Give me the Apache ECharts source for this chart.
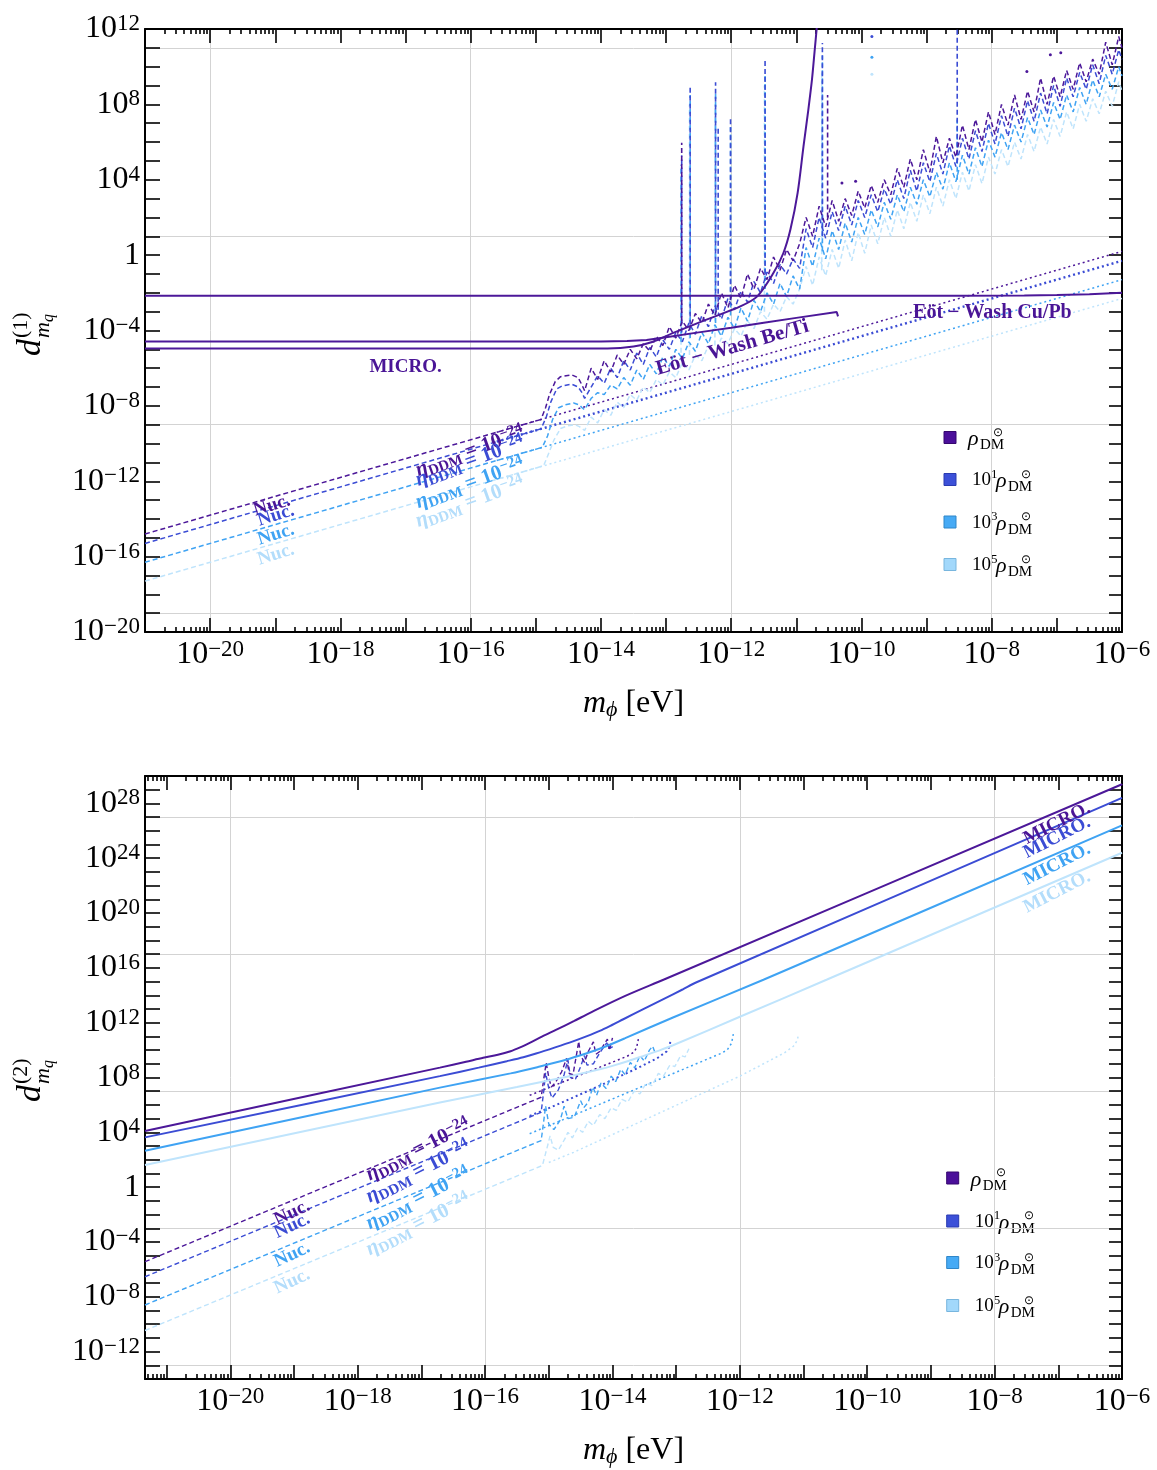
<!DOCTYPE html>
<html><head><meta charset="utf-8">
<script src="https://cdn.jsdelivr.net/npm/echarts@6/dist/echarts.min.js"></script>
<style>html,body{margin:0;padding:0;background:#fff}#c{width:1157px;height:1470px}</style>
</head><body><div id="c"></div><script>
// ---------- constants ----------
const FONT = '"Liberation Serif","Times New Roman",serif';
const COLORS = ['#4c1899', '#3b4cd4', '#3fa3f3', '#bfe4fc'];
const TEXT_COLORS = ['#4a1596', '#3b4cd4', '#3fa3f3', '#b3ddfb'];
const LEGEND_FILL = ['#4b0f9a', '#3c50d8', '#46aaf5', '#a2d8fb'];
const LEGEND_EDGE = ['#35076e', '#2a3bb0', '#2f86c8', '#78b6de'];
const RHO_EXP = [null, '1', '3', '5'];

// ---------- axis ranges & tick labels (log10 exponents) ----------
const TOP_LIM = { xmin: -21, xmax: -6, ymin: -20, ymax: 12 };
const BOT_LIM = { xmin: -21.34, xmax: -6, ymin: -14, ymax: 30 };
const X_LABEL_EXP = [-20, -18, -16, -14, -12, -10, -8, -6];
const X_GRID_EXP = [-20, -16, -12, -8];
const TOP_YLAB_EXP = [-20, -16, -12, -8, -4, 0, 4, 8, 12];
const TOP_YGRID_EXP = [-19, -9, 1, 11];
const BOT_YLAB_EXP = [-12, -8, -4, 0, 4, 8, 12, 16, 20, 24, 28];
const BOT_YGRID_EXP = [-13, -3, 7, 17, 27];

// ---------- TOP panel data (log10 m_phi, log10 d) ----------
const TOP_CUPB_X = [-21, -8.5, -7.5, -7.0, -6.5, -6.0];
const TOP_CUPB_Y = [-2.15, -2.15, -2.14, -2.12, -2.08, -2.0];
const TOP_BETI_X = [-21, -14.0, -13.6, -13.3, -13.0, -12.5, -12.0, -11.5, -11.0, -10.38, -10.36, -10.36];
const TOP_BETI_Y = [-4.58, -4.58, -4.56, -4.5, -4.36, -4.1, -3.85, -3.59, -3.33, -3.02, -3.0, -3.25];
const TOP_MICRO_X = [-21, -13.9, -13.5, -13.2, -12.89, -12.38, -11.86, -11.6, -11.35, -11.2, -11.09, -10.98, -10.89, -10.82, -10.76, -10.72, -10.68];
const TOP_MICRO_Y = [-4.95, -4.95, -4.85, -4.6, -4.13, -3.42, -2.72, -2.19, -0.94, 0.1, 1.37, 3.3, 5.77, 7.6, 9.31, 10.8, 12.3];

const TOP_DOT_X = [-15.6, -6.0];
const TOP_DOT_Y0 = [-9.4, 0.2];
const TOP_DOT_Y1 = [-9.9, -0.3];
const TOP_DOT_Y2 = [-10.9, -1.3];
const TOP_DOT_Y3 = [-11.9, -2.3];

const TOP_HEAD_X0 = [-21, -14.92, -14.85, -14.79, -14.7, -14.62, -14.45, -14.35, -14.29];
const TOP_HEAD_Y0 = [-14.8, -8.72, -8.1, -7.4, -6.7, -6.45, -6.35, -6.5, -6.9];
const TOP_HEAD_X1 = [-21, -14.92, -14.84, -14.77, -14.68, -14.6, -14.45, -14.35, -14.29];
const TOP_HEAD_Y1 = [-15.3, -9.22, -8.6, -7.8, -7.1, -6.95, -6.85, -7.0, -7.3];
const TOP_HEAD_X2 = [-21, -14.9, -14.82, -14.74, -14.65, -14.55, -14.42, -14.33, -14.29];
const TOP_HEAD_Y2 = [-16.3, -10.2, -9.6, -8.7, -8.1, -7.95, -7.85, -7.95, -8.1];
const TOP_HEAD_X3 = [-21, -14.88, -14.8, -14.72, -14.62, -14.5, -14.4, -14.33, -14.29];
const TOP_HEAD_Y3 = [-17.3, -11.18, -10.5, -9.8, -9.2, -9.05, -9.0, -9.1, -9.2];

const TOP_JAG_X = [-14.25, -14.15, -14.05, -13.95, -13.85, -13.75, -13.65, -13.55, -13.45, -13.35,
  -13.25, -13.15, -13.05, -12.95, -12.85, -12.75, -12.65, -12.55, -12.45, -12.35,
  -12.25, -12.15, -12.05, -11.95, -11.85, -11.75, -11.65, -11.55, -11.45, -11.35,
  -11.25, -11.15, -11.05, -10.95, -10.85, -10.75, -10.65, -10.55, -10.45, -10.35,
  -10.25, -10.15, -10.05, -9.95, -9.85, -9.75, -9.65, -9.55, -9.45, -9.35,
  -9.25, -9.15, -9.05, -8.95, -8.85, -8.75, -8.65, -8.55, -8.45, -8.35,
  -8.25, -8.15, -8.05, -7.95, -7.85, -7.75, -7.65, -7.55, -7.45, -7.35,
  -7.25, -7.15, -7.05, -6.95, -6.85, -6.75, -6.65, -6.55, -6.45, -6.35,
  -6.25, -6.15, -6.05, -6.0];
const TOP_JAG_Y0 = [-7.2, -6.0, -6.6, -5.6, -6.2, -5.3, -5.8, -5.0, -5.5, -4.7,
  -5.1, -4.3, -4.8, -3.8, -4.4, -3.5, -4.0, -3.1, -3.6, -2.6,
  -3.2, -2.0, -2.8, -1.6, -2.3, -1.0, -1.8, -0.7, -1.3, -0.1,
  -0.8, 0.3, -0.3, 0.6, 2.0, 1.0, 2.6, 1.5, 2.9, 1.8,
  3.0, 2.1, 3.4, 2.5, 3.7, 2.8, 4.0, 3.2, 4.6, 3.6,
  5.1, 4.0, 5.6, 4.4, 6.3, 4.9, 6.2, 5.2, 6.9, 5.6,
  7.2, 6.0, 7.6, 6.4, 8.0, 6.9, 8.5, 7.2, 8.7, 7.6,
  9.4, 8.0, 9.5, 8.4, 9.8, 8.8, 10.2, 9.2, 10.4, 9.6,
  11.3, 10.1, 11.6, 11.0];
const TOP_JAG_Y1 = [-7.6, -7.0, -6.4, -6.8, -6.0, -6.5, -5.6, -6.1, -5.2, -5.8,
  -4.9, -5.4, -4.5, -5.0, -4.1, -4.6, -3.6, -4.2, -3.2, -3.8,
  -2.7, -3.4, -2.3, -2.9, -1.9, -2.5, -1.4, -2.0, -0.9, -1.5,
  -0.5, -1.0, -0.2, -0.7, 1.4, 0.4, 2.0, 0.9, 2.3, 1.3,
  2.6, 1.6, 2.9, 2.0, 3.2, 2.3, 3.5, 2.7, 4.0, 3.0,
  4.5, 3.4, 4.9, 3.9, 5.4, 4.3, 5.8, 4.7, 6.2, 5.1,
  6.6, 5.5, 7.0, 5.9, 7.4, 6.3, 7.8, 6.7, 8.2, 7.1,
  8.6, 7.5, 9.0, 7.9, 9.4, 8.4, 9.7, 8.8, 10.1, 9.1,
  10.6, 9.6, 10.9, 10.4];
const TOP_JAG_Y2 = [-8.2, -7.6, -7.3, -7.4, -6.9, -7.1, -6.5, -6.9, -6.1, -6.6,
  -5.8, -6.3, -5.4, -5.9, -5.0, -5.5, -4.6, -5.1, -4.1, -4.7,
  -3.7, -4.3, -3.3, -3.9, -2.8, -3.5, -2.4, -3.0, -2.0, -2.6,
  -1.5, -2.2, -1.1, -1.8, 0.4, -0.6, 0.9, -0.2, 1.3, 0.3,
  1.7, 0.7, 2.0, 1.1, 2.4, 1.5, 2.8, 1.9, 3.2, 2.3,
  3.6, 2.7, 4.0, 3.1, 4.4, 3.5, 4.9, 3.9, 5.3, 4.3,
  5.7, 4.7, 6.1, 5.2, 6.5, 5.6, 6.9, 6.0, 7.3, 6.4,
  7.7, 6.8, 8.1, 7.2, 8.5, 7.6, 8.9, 8.0, 9.3, 8.4,
  9.6, 8.8, 10.0, 9.5];
const TOP_JAG_Y3 = [-9.3, -8.6, -8.9, -8.2, -8.5, -7.8, -8.1, -7.4, -7.7, -7.0,
  -7.3, -6.6, -6.9, -6.2, -6.5, -5.7, -6.1, -5.3, -5.6, -4.8,
  -5.2, -4.4, -4.7, -3.9, -4.3, -3.5, -3.9, -3.0, -3.4, -2.6,
  -3.0, -2.2, -2.6, -1.8, -0.6, -1.6, -0.1, -1.1, 0.3, -0.7,
  0.8, -0.3, 1.2, 0.1, 1.6, 0.6, 2.0, 1.0, 2.4, 1.4,
  2.8, 1.8, 3.2, 2.2, 3.6, 2.6, 4.0, 3.0, 4.4, 3.4,
  4.8, 3.8, 5.2, 4.3, 5.6, 4.7, 6.0, 5.1, 6.4, 5.5,
  6.8, 5.9, 7.2, 6.3, 7.6, 6.7, 8.0, 7.1, 8.3, 7.5,
  8.7, 7.9, 9.2, 8.7];

// spikes: [log m, log base, log top, colour index]
const TOP_SPIKES = [
  [-12.77, -5.6, 4.2, 3], [-12.77, -4.6, 4.8, 2], [-12.76, -4.1, 5.3, 1], [-12.76, -3.5, 5.96, 0],
  [-12.64, -5.3, 8.0, 3], [-12.63, -4.4, 8.5, 2], [-12.63, -3.7, 8.95, 1],
  [-12.25, -4.8, 8.0, 3], [-12.24, -3.6, 8.6, 2], [-12.24, -2.9, 9.17, 1],
  [-12.2, -2.9, 6.83, 1],
  [-12.01, -3.2, 6.8, 2], [-12.01, -2.4, 7.37, 1],
  [-11.49, -3.0, 9.0, 3], [-11.48, -1.8, 9.6, 2], [-11.48, -1.0, 10.4, 1],
  [-10.61, -0.8, 9.8, 3], [-10.6, 0.2, 10.6, 2], [-10.6, 1.0, 11.26, 1],
  [-10.52, 2.0, 8.5, 0],
  [-8.53, 4.0, 7.2, 2], [-8.53, 4.9, 12.5, 1]
];
// isolated spike tips: [log m, log d, colour index]
const TOP_TIPS = [[-9.84, 11.6, 1], [-9.84, 10.5, 2], [-9.84, 9.6, 3], [-10.3, 3.83, 0],
  [-10.09, 3.92, 0], [-7.46, 9.75, 0], [-7.1, 10.64, 0], [-6.94, 10.74, 0]];

// ---------- BOTTOM panel data ----------
const BOT_MICRO_X0 = [-21.34, -16.71, -16.3, -16.03, -15.8, -15.6, -15.45, -15.3, -15.1, -14.88, -14.6, -14.36, -13.8, -13.2, -6];
const BOT_MICRO_Y0 = [4.1, 8.72, 9.15, 9.44, 9.66, 9.92, 10.2, 10.53, 11.0, 11.49, 12.13, 12.7, 13.95, 15.13, 29.4];
const BOT_MICRO_X1 = [-21.34, -16.71, -16.1, -15.66, -15.4, -15.2, -14.9, -14.62, -14.4, -14.2, -14.0, -13.83, -13.5, -13.2, -12.9, -12.68, -6];
const BOT_MICRO_Y1 = [3.63, 8.1, 8.72, 9.19, 9.48, 9.75, 10.2, 10.64, 11.02, 11.4, 11.85, 12.25, 13.02, 13.72, 14.42, 14.95, 28.4];
const BOT_MICRO_X2 = [-21.34, -16.71, -15.6, -15.14, -14.8, -14.5, -14.3, -14.09, -13.8, -13.05, -11.63, -6];
const BOT_MICRO_Y2 = [2.65, 7.26, 8.3, 8.8, 9.2, 9.62, 9.93, 10.3, 10.87, 12.38, 15.13, 26.4];
const BOT_MICRO_X3 = [-21.34, -16.71, -15.5, -14.62, -14.2, -14.0, -13.75, -13.5, -13.25, -13.05, -12.0, -10.64, -6];
const BOT_MICRO_Y3 = [1.62, 6.17, 7.3, 8.15, 8.6, 8.85, 9.2, 9.6, 10.0, 10.35, 12.43, 15.13, 24.4];

const BOT_NUC_X0 = [-21.34, -15.12, -15.07, -15.04, -15.0, -14.96, -14.9, -14.8, -14.72, -14.68, -14.62, -14.56, -14.53, -14.5, -14.44, -14.38, -14.3, -14.26, -14.2, -14.12, -14.08, -14.05, -14.0];
const BOT_NUC_Y0 = [-5.44, 6.56, 8.2, 9.07, 8.0, 7.3, 7.6, 8.4, 9.4, 8.3, 8.2, 9.8, 10.64, 9.6, 9.1, 9.9, 10.6, 9.7, 9.9, 10.5, 10.8, 10.0, 10.89];
const BOT_NUC_X1 = [-21.34, -15.12, -15.08, -15.05, -15.0, -14.95, -14.85, -14.76, -14.7, -14.66, -14.58, -14.5, -14.44, -14.4, -14.3, -14.2, -14.09, -14.05, -13.98];
const BOT_NUC_Y1 = [-6.54, 5.46, 7.0, 8.35, 7.2, 6.5, 7.1, 8.2, 9.3, 8.0, 7.9, 8.8, 9.6, 8.9, 9.0, 9.8, 10.53, 10.1, 10.3];
const BOT_NUC_X2 = [-21.34, -15.12, -15.08, -15.05, -15.0, -14.92, -14.82, -14.76, -14.7, -14.6, -14.5, -14.45, -14.38, -14.31, -14.25, -14.18, -14.1, -14.02, -13.95, -13.87, -13.8, -13.72, -13.65, -13.57, -13.5, -13.42, -13.37, -13.33];
const BOT_NUC_Y2 = [-8.6, 3.4, 4.8, 5.92, 4.6, 4.2, 4.9, 5.9, 5.0, 5.1, 6.3, 5.8, 6.2, 7.3, 6.7, 7.6, 7.2, 8.1, 7.7, 8.6, 8.2, 9.1, 8.7, 9.6, 9.2, 10.0, 10.28, 9.8];
const BOT_NUC_X3 = [-21.34, -15.1, -15.02, -14.98, -14.93, -14.85, -14.75, -14.7, -14.63, -14.55, -14.47, -14.38, -14.3, -14.2, -14.12, -14.02, -13.94, -13.85, -13.76, -13.66, -13.57, -13.47, -13.38, -13.28, -13.2, -13.1, -13.02, -12.93, -12.86, -12.8];
const BOT_NUC_Y3 = [-10.46, 1.58, 3.0, 3.74, 2.9, 2.7, 3.5, 4.0, 3.6, 4.3, 4.0, 4.8, 4.5, 5.3, 5.0, 5.8, 5.6, 6.4, 6.2, 7.0, 6.8, 7.6, 7.4, 8.3, 8.1, 8.9, 8.8, 9.6, 9.5, 10.1];

const BOT_DOT_X0 = [-15.3, -13.77, -13.66, -13.62, -13.59];
const BOT_DOT_Y0 = [6.7, 9.55, 9.85, 10.2, 10.89];
const BOT_DOT_X1 = [-15.3, -14.98, -14.2, -13.6, -13.3, -13.15, -13.1, -13.09];
const BOT_DOT_Y1 = [5.2, 5.8, 7.4, 8.7, 9.4, 9.9, 10.3, 10.76];
const BOT_DOT_X2 = [-15.3, -14.88, -12.3, -12.2, -12.13, -12.1];
const BOT_DOT_Y2 = [3.9, 4.72, 9.75, 10.0, 10.5, 11.24];
const BOT_DOT_X3 = [-15.0, -14.61, -12.0, -11.3, -11.16, -11.1, -11.08];
const BOT_DOT_Y3 = [1.8, 2.54, 8.1, 9.8, 10.28, 10.7, 11.12];

// ---------- annotations ----------
const TOP_NOTES = [
  { t: 'nuc', x: -19.05, y: -13.29, c: 0, rot: 17 }, { t: 'nuc', x: -18.99, y: -13.82, c: 1, rot: 17 },
  { t: 'nuc', x: -18.99, y: -14.83, c: 2, rot: 17 }, { t: 'nuc', x: -18.99, y: -15.89, c: 3, rot: 17 },
  { t: 'eta', x: -16.01, y: -10.42, c: 0, rot: 20 }, { t: 'eta', x: -16.01, y: -10.95, c: 1, rot: 20 },
  { t: 'eta', x: -16.01, y: -12.12, c: 2, rot: 20 }, { t: 'eta', x: -16.01, y: -13.12, c: 3, rot: 20 },
  { t: 'micro', x: -17.0, y: -5.92, c: 0, rot: 0 },
  { t: 'beti', x: -11.98, y: -4.91, c: 0, rot: 16 },
  { t: 'cupb', x: -7.99, y: -3.08, c: 0, rot: 0 }
];
const BOT_NOTES = [
  { t: 'nuc', x: -19.03, y: -1.87, c: 0, rot: 25 }, { t: 'nuc', x: -19.03, y: -2.82, c: 1, rot: 25 },
  { t: 'nuc', x: -19.03, y: -4.92, c: 2, rot: 25 }, { t: 'nuc', x: -19.03, y: -6.88, c: 3, rot: 25 },
  { t: 'eta', x: -17.05, y: 2.71, c: 0, rot: 27 }, { t: 'eta', x: -17.05, y: 1.11, c: 1, rot: 27 },
  { t: 'eta', x: -17.05, y: -0.85, c: 2, rot: 27 }, { t: 'eta', x: -17.05, y: -2.74, c: 3, rot: 27 },
  { t: 'micro', x: -7.02, y: 26.53, c: 0, rot: 27 }, { t: 'micro', x: -7.02, y: 25.51, c: 1, rot: 27 },
  { t: 'micro', x: -7.02, y: 23.55, c: 2, rot: 27 }, { t: 'micro', x: -7.02, y: 21.52, c: 3, rot: 27 }
];

// ---------- helpers ----------
const P = e => Math.pow(10, e);
const pts = (xs, ys) => xs.map((x, i) => [P(x), P(ys[i])]);
function range(a, b) { const r = []; for (let e = a; e <= b; e++) r.push(e); return r; }
const decadeVals = (a, b) => range(a, b).map(P);
function minorVals(lim) {
  const lo = P(lim.xmin) * 1.0001, hi = P(lim.xmax) * 0.9999, r = [];
  for (let e = Math.floor(lim.xmin); e < lim.xmax; e++)
    for (let k = 2; k <= 9; k++) { const v = k * P(e); if (v >= lo && v <= hi) r.push(v); }
  return r;
}
function powLabel(v) {
  const e = Math.round(Math.log10(v));
  if (e === 0) return '{b|1}';
  return '{b|10}{s|' + (e < 0 ? '\u2212' : '') + Math.abs(e) + '}';
}
const TICK_RICH = {
  b: { fontFamily: FONT, fontSize: 32, lineHeight: 33, color: '#000' },
  s: { fontFamily: FONT, fontSize: 23, lineHeight: 14, verticalAlign: 'top', color: '#000' }
};
const NAME_RICH = {
  m: { fontFamily: FONT, fontStyle: 'italic', fontSize: 32, lineHeight: 34, color: '#000' },
  p: { fontFamily: FONT, fontStyle: 'italic', fontSize: 22, lineHeight: 12, verticalAlign: 'bottom', color: '#000' },
  n: { fontFamily: FONT, fontSize: 32, lineHeight: 34, color: '#000' }
};
const tickStyle = { color: '#000', width: 1.6 };
const axLine = { show: true, onZero: false, lineStyle: { color: '#000', width: 2 } };
const noLine = { show: false, onZero: false };
const gridLine = { show: true, lineStyle: { color: '#d3d3d3', width: 1 } };

function buildX(gi, lim) {
  const common = { type: 'log', logBase: 10, gridIndex: gi, min: P(lim.xmin), max: P(lim.xmax), silent: true,
    splitLine: { show: false }, axisLabel: { show: false }, axisPointer: { show: false } };
  const majors = decadeVals(Math.ceil(lim.xmin), lim.xmax);
  const minors = minorVals(lim);
  return [
    { ...common, position: 'bottom', axisLine: axLine,
      axisTick: { show: true, inside: true, length: 14, lineStyle: tickStyle, customValues: majors },
      axisLabel: { show: true, margin: 6, customValues: X_LABEL_EXP.map(P), formatter: powLabel, rich: TICK_RICH },
      name: '{m|m}{p|\u03d5}{n| [eV]}', nameLocation: 'middle', nameGap: 55, nameTextStyle: { rich: NAME_RICH } },
    { ...common, position: 'bottom', axisLine: noLine,
      axisTick: { show: true, inside: true, length: 5, lineStyle: tickStyle, customValues: minors } },
    { ...common, position: 'top', axisLine: axLine,
      axisTick: { show: true, inside: true, length: 14, lineStyle: tickStyle, customValues: majors } },
    { ...common, position: 'top', axisLine: noLine,
      axisTick: { show: true, inside: true, length: 5, lineStyle: tickStyle, customValues: minors } },
    { ...common, position: 'bottom', axisLine: noLine,
      axisTick: { show: false, customValues: X_GRID_EXP.map(P) }, splitLine: gridLine }
  ];
}
function buildY(gi, lim, labExp, gridExp) {
  const common = { type: 'log', logBase: 10, gridIndex: gi, min: P(lim.ymin), max: P(lim.ymax), silent: true,
    splitLine: { show: false }, axisLabel: { show: false }, axisPointer: { show: false } };
  const majors = decadeVals(lim.ymin, lim.ymax);
  return [
    { ...common, position: 'left', axisLine: axLine,
      axisTick: { show: true, inside: true, length: 15, lineStyle: tickStyle, customValues: majors },
      axisLabel: { show: true, margin: 5, customValues: labExp.map(P), formatter: powLabel, rich: TICK_RICH } },
    { ...common, position: 'right', axisLine: axLine,
      axisTick: { show: true, inside: true, length: 13, lineStyle: tickStyle, customValues: majors } },
    { ...common, position: 'left', axisLine: noLine,
      axisTick: { show: false, customValues: gridExp.map(P) }, splitLine: gridLine }
  ];
}

function lineS(xs, ys, xi, yi, c, w, dash, smooth) {
  return { type: 'line', xAxisIndex: xi, yAxisIndex: yi, data: pts(xs, ys), showSymbol: false, symbol: 'none',
    silent: true, clip: true, smooth: smooth || false, emphasis: { disabled: true },
    lineStyle: { color: COLORS[c], width: w, type: dash || 'solid', cap: 'butt' } };
}
const DASH = [5, 3], DOT = [2, 3];

function noteText(n) {
  if (n.t === 'nuc') return '{n|Nuc.}';
  if (n.t === 'micro') return '{n|MICRO.}';
  if (n.t === 'beti') return '{n|E\u00f6t \u2212 Wash Be/Ti}';
  if (n.t === 'cupb') return '{n|E\u00f6t \u2212 Wash Cu/Pb}';
  return '{i|\u03b7}{sub|DDM}{n| = 10}{sup|\u221224}';
}
const NOTE_SIZE = { nuc: 19, micro: 19, beti: 21, cupb: 20, eta: 21 };
function noteSeries(xi, yi, notes) {
  return { type: 'scatter', xAxisIndex: xi, yAxisIndex: yi, silent: true, z: 10, symbolSize: 1,
    itemStyle: { color: 'rgba(255,255,255,0)', opacity: 1 }, emphasis: { disabled: true },
    data: notes.map(n => {
      const col = TEXT_COLORS[n.c], s = NOTE_SIZE[n.t];
      return { value: [P(n.x), P(n.y)], label: { show: true, position: 'inside', rotate: n.rot, formatter: noteText(n),
        opacity: 1, color: col, textBorderWidth: 0,
        rich: {
          n: { fontFamily: FONT, fontWeight: 'bold', fontSize: s, lineHeight: s + 4, color: col },
          i: { fontFamily: FONT, fontWeight: 'bold', fontStyle: 'italic', fontSize: s, lineHeight: s + 4, color: col },
          sub: { fontFamily: FONT, fontWeight: 'bold', fontSize: Math.round(s * 0.7), lineHeight: 10, verticalAlign: 'bottom', color: col },
          sup: { fontFamily: FONT, fontWeight: 'bold', fontSize: Math.round(s * 0.7), lineHeight: 10, verticalAlign: 'top', color: col }
        } } };
    }) };
}
function spikeSeries(xi, yi, rows) {
  return { type: 'custom', xAxisIndex: xi, yAxisIndex: yi, clip: true, silent: true, z: 3,
    data: rows.map(r => [P(r[0]), P(r[1]), P(r[2]), r[3]]), encode: { x: 0, y: [1, 2] },
    renderItem: (params, api) => {
      const a = api.coord([api.value(0), api.value(1)]);
      const b = api.coord([api.value(0), api.value(2)]);
      return { type: 'line', shape: { x1: a[0], y1: a[1], x2: b[0], y2: b[1] },
        style: { stroke: COLORS[api.value(3)], lineWidth: 1.6, lineDash: [5, 3] } };
    } };
}

// ---------- graphic: legends & y titles ----------
function txt(text, x, y, size, italic) {
  return { type: 'text', x, y, silent: true, style: { text, fontFamily: FONT, fontSize: size,
    fontStyle: italic ? 'italic' : 'normal', fill: '#000', align: 'left', verticalAlign: 'middle' } };
}
function legendGroup(x0, rows) {
  const ch = [];
  rows.forEach((yc, i) => {
    ch.push({ type: 'rect', silent: true, shape: { x: x0, y: yc - 6, width: 12, height: 12 },
      style: { fill: LEGEND_FILL[i], stroke: LEGEND_EDGE[i], lineWidth: 1 } });
    let rx = x0 + 24;
    if (RHO_EXP[i]) {
      ch.push(txt('10', x0 + 28, yc + 1, 19));
      ch.push(txt(RHO_EXP[i], x0 + 47, yc - 5, 13));
      rx = x0 + 52;
    }
    ch.push(txt('\u03c1', rx, yc + 2, 22, true));
    ch.push(txt('DM', rx + 12, yc + 8, 15));
    ch.push(txt('\u2299', rx + 25, yc - 5, 12));
  });
  return { type: 'group', children: ch };
}
function yTitle(gx, gy, order) {
  return { type: 'group', x: gx, y: gy, rotation: Math.PI / 2, silent: true, children: [
    txt('d', 0, 0, 34, true),
    txt('(' + order + ')', 18, -10, 22),
    txt('m', 18, 12, 22, true),
    txt('q', 34, 17, 16, true)
  ] };
}

// ---------- series ----------
const TOP_DOTS = [TOP_DOT_Y0, TOP_DOT_Y1, TOP_DOT_Y2, TOP_DOT_Y3];
const TOP_HX = [TOP_HEAD_X0, TOP_HEAD_X1, TOP_HEAD_X2, TOP_HEAD_X3];
const TOP_HY = [TOP_HEAD_Y0, TOP_HEAD_Y1, TOP_HEAD_Y2, TOP_HEAD_Y3];
const TOP_JY = [TOP_JAG_Y0, TOP_JAG_Y1, TOP_JAG_Y2, TOP_JAG_Y3];
const BOT_MX = [BOT_MICRO_X0, BOT_MICRO_X1, BOT_MICRO_X2, BOT_MICRO_X3];
const BOT_MY = [BOT_MICRO_Y0, BOT_MICRO_Y1, BOT_MICRO_Y2, BOT_MICRO_Y3];
const BOT_NX = [BOT_NUC_X0, BOT_NUC_X1, BOT_NUC_X2, BOT_NUC_X3];
const BOT_NY = [BOT_NUC_Y0, BOT_NUC_Y1, BOT_NUC_Y2, BOT_NUC_Y3];
const BOT_DX = [BOT_DOT_X0, BOT_DOT_X1, BOT_DOT_X2, BOT_DOT_X3];
const BOT_DY = [BOT_DOT_Y0, BOT_DOT_Y1, BOT_DOT_Y2, BOT_DOT_Y3];

const series = [];
const order = [3, 2, 1, 0];
// top panel (x axis 0, y axis 0)
order.forEach(k => series.push(lineS(TOP_DOT_X, TOP_DOTS[k], 0, 0, k, k === 1 ? 2.4 : 1.5, DOT)));
order.forEach(k => series.push(lineS(TOP_HX[k].concat(TOP_JAG_X), TOP_HY[k].concat(TOP_JY[k]), 0, 0, k, 1.5, DASH)));
series.push(spikeSeries(0, 0, TOP_SPIKES));
series.push({ type: 'scatter', xAxisIndex: 0, yAxisIndex: 0, silent: true, symbolSize: 3, z: 4,
  data: TOP_TIPS.map(r => ({ value: [P(r[0]), P(r[1])], itemStyle: { color: COLORS[r[2]], opacity: 1 } })) });
series.push(lineS(TOP_CUPB_X, TOP_CUPB_Y, 0, 0, 0, 2));
series.push(lineS(TOP_BETI_X, TOP_BETI_Y, 0, 0, 0, 2));
series.push(lineS(TOP_MICRO_X, TOP_MICRO_Y, 0, 0, 0, 2, null, 0.3));
series.push(noteSeries(0, 0, TOP_NOTES));
// bottom panel (x axis 5, y axis 3)
order.forEach(k => series.push(lineS(BOT_DX[k], BOT_DY[k], 5, 3, k, k === 1 ? 2 : 1.5, DOT)));
order.forEach(k => series.push(lineS(BOT_NX[k], BOT_NY[k], 5, 3, k, 1.4, DASH)));
order.forEach(k => series.push(lineS(BOT_MX[k], BOT_MY[k], 5, 3, k, 2, null, 0.3)));
series.push(noteSeries(5, 3, BOT_NOTES));

const option = {
  animation: false,
  backgroundColor: '#ffffff',
  grid: [
    { left: 145, right: 35, top: 29, height: 603, containLabel: false, outerBoundsMode: 'none' },
    { left: 145, right: 35, top: 776, height: 603, containLabel: false, outerBoundsMode: 'none' }
  ],
  xAxis: [...buildX(0, TOP_LIM), ...buildX(1, BOT_LIM)],
  yAxis: [...buildY(0, TOP_LIM, TOP_YLAB_EXP, TOP_YGRID_EXP), ...buildY(1, BOT_LIM, BOT_YLAB_EXP, BOT_YGRID_EXP)],
  series,
  graphic: [
    legendGroup(944, [437.5, 479.5, 522, 564.5]),
    legendGroup(946.7, [1178, 1221, 1262.5, 1305.5]),
    yTitle(31.5, 356, 1),
    yTitle(31.5, 1102, 2)
  ]
};
const chart = echarts.init(document.getElementById('c'), null, { renderer: 'canvas' });
chart.setOption(option);
</script></body></html>
